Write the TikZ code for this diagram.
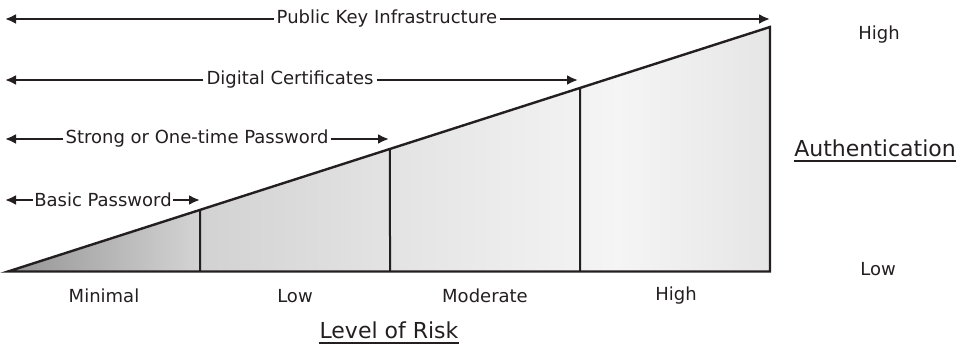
\documentclass[tikz,border=0pt]{standalone}
\usepackage{fontspec}
\setmainfont{DejaVu Sans}
\usetikzlibrary{arrows.meta,calc}
\definecolor{ink}{HTML}{231F20}
% left-to-right fill of the wedge: dark at the point, brightest near the right
\pgfdeclarehorizontalshading{wedgefill}{100bp}{%
  color(0bp)=(black!42);
  color(25bp)=(black!42);
  color(37bp)=(black!18);
  color(50bp)=(black!11);
  color(65bp)=(black!4);
  color(75bp)=(black!10);
  color(100bp)=(black!10)}
\tikzset{
  lbl/.style={font=\fontsize{18}{20}\selectfont, text=ink, inner sep=3pt},
  big/.style={font=\fontsize{22}{24}\selectfont, text=ink, inner sep=0pt},
  span/.style={draw=ink, line width=2.3pt, -{Latex[length=11pt,width=10pt]}},
  edge/.style={draw=ink, line width=2.4pt, line join=miter},
  divider/.style={draw=ink, line width=2pt},
  ul/.style={draw=ink, line width=2.4pt}
}
\begin{document}
\begin{tikzpicture}[x=1pt,y=-1pt]
  \useasboundingbox (0,0) rectangle (962,355);

  % wedge corners
  \coordinate (A) at (8,271.5);
  \coordinate (B) at (770,271.5);
  \coordinate (C) at (770,27);
  % points where the dividers meet the slope
  \coordinate (d1t) at ($(A)!0.2520!(C)$);
  \coordinate (d2t) at ($(A)!0.5013!(C)$);
  \coordinate (d3t) at ($(A)!0.7507!(C)$);
  \coordinate (d1b) at (200,271.5);
  \coordinate (d2b) at (390,271.5);
  \coordinate (d3b) at (580,271.5);

  \shade[shading=wedgefill] (A) -- (B) -- (C) -- cycle;
  \draw[divider] (d1b) -- (d1t);
  \draw[divider] (d2b) -- (d2t);
  \draw[divider] (d3b) -- (d3t);
  \draw[edge] (A) -- (B) -- (C) -- cycle;

  % spans of the four authentication methods
  \coordinate (pkiL) at (5,19);   \coordinate (pkiR) at (770,19);
  \coordinate (dcL) at (5,80);    \coordinate (dcR) at (578,80);
  \coordinate (stL) at (5,139);   \coordinate (stR) at (389,139);
  \coordinate (bpL) at (5,200);   \coordinate (bpR) at (200,200);

  \node[lbl] (pki) at (387,19) {Public Key Infrastructure};
  \node[lbl] (dc) at (290,80) {Digital Certificates};
  \node[lbl, inner sep=2pt] (st) at (197,139) {Strong or One-time Password};
  \node[lbl, inner sep=1pt] (bp) at (103,200) {Basic Password};

  \draw[span] (pki.west) -- (pkiL);
  \draw[span] (pki.east) -- (pkiR);
  \draw[span] (dc.west) -- (dcL);
  \draw[span] (dc.east) -- (dcR);
  \draw[span] (st.west) -- (stL);
  \draw[span] (st.east) -- (stR);
  \draw[span] (bp.west) -- (bpL);
  \draw[span] (bp.east) -- (bpR);

  % risk levels under the wedge
  \node[lbl] (rmin) at (104,296) {Minimal};
  \node[lbl] (rlow) at (295,296) {Low};
  \node[lbl] (rmod) at (485,296) {Moderate};
  \node[lbl] (rhigh) at (676,296) {High};

  \node[big] (risk) at (389,330) {Level of Risk};
  \draw[ul] ([yshift=-5pt]risk.base west) -- ([yshift=-5pt]risk.base east);

  % authentication scale on the right
  \node[lbl] (ahigh) at (879,35) {High};
  \node[lbl] (alow) at (878,269) {Low};
  \node[big] (auth) at (875,148) {Authentication};
  \draw[ul] ([yshift=-5pt]auth.base west) -- ([yshift=-5pt]auth.base east);
\end{tikzpicture}
\end{document}
